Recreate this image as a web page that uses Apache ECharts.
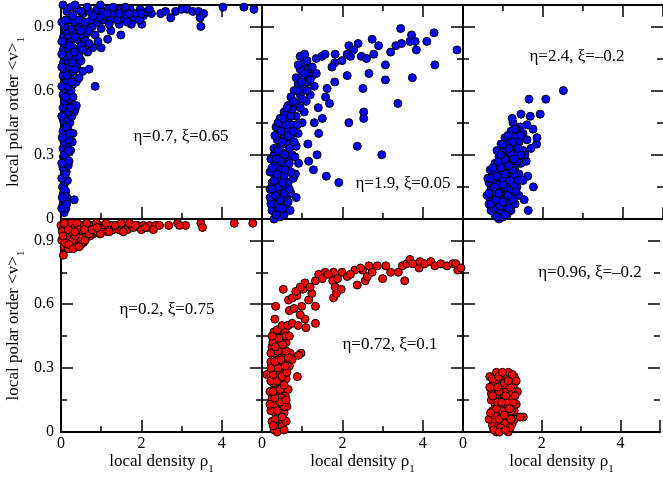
<!DOCTYPE html>
<html>
<head>
<meta charset="utf-8">
<script src="https://cdn.jsdelivr.net/npm/echarts@6/dist/echarts.min.js"></script>
<style>
html, body { margin: 0; padding: 0; background: #fff; }
#chart { width: 663px; height: 479px; }
</style>
</head>
<body>
<div id="chart"></div>
<script>
// ---- data: local density rho_1 vs local polar order <v>_1 ----
const xTickLabels = [0, 2, 4];
const yTickLabels = [0, 0.3, 0.6, 0.9];
const xTitle = 'local density ρ';
const yTitle = 'local polar order <v>';
const panelNotes = ['η=0.7, ξ=0.65', 'η=1.9, ξ=0.05', 'η=2.4, ξ=–0.2',
                    'η=0.2, ξ=0.75', 'η=0.72, ξ=0.1', 'η=0.96, ξ=–0.2'];

const blueEta07 = [
  [0.08,0.03],[0.12,0.05],[0.05,0.07],[0.1,0.08],[0.15,0.1],[0.06,0.12],[0.12,0.13],[0.04,0.15],[0.1,0.17],[0.16,0.18],
  [0.07,0.2],[0.13,0.22],[0.05,0.24],[0.18,0.25],[0.1,0.26],[0.14,0.28],[0.06,0.29],[0.33,0.09],[0.2,0.27],[0.09,0.11],
  [0.1,0.31],[0.24,0.32],[0.05,0.33],[0.15,0.34],[0.28,0.36],[0.08,0.36],[0.2,0.37],[0.12,0.39],[0.3,0.4],[0.05,0.41],
  [0.17,0.42],[0.1,0.44],[0.22,0.45],[0.06,0.46],[0.15,0.47],[0.27,0.48],[0.1,0.49],[0.2,0.5],[0.32,0.5],[0.05,0.52],
  [0.14,0.53],[0.26,0.54],[0.09,0.55],[0.2,0.56],[0.3,0.57],[0.05,0.58],[0.15,0.59],[0.25,0.6],[0.35,0.51],[0.38,0.53],
  [0.08,0.61],[0.18,0.62],[0.3,0.63],[0.38,0.64],[0.12,0.65],[0.24,0.66],[0.05,0.67],[0.17,0.68],[0.3,0.69],[0.54,0.69],
  [0.1,0.7],[0.22,0.71],[0.4,0.72],[0.06,0.73],[0.16,0.74],[0.3,0.75],[0.5,0.74],[0.1,0.76],[0.22,0.77],[0.4,0.78],
  [0.66,0.78],[0.06,0.79],[0.16,0.8],[0.3,0.8],[0.5,0.81],[0.79,0.8],[1.0,0.8],[0.1,0.82],[0.24,0.83],[0.4,0.84],
  [0.6,0.84],[1.16,0.84],[0.06,0.85],[0.18,0.86],[0.32,0.87],[0.5,0.86],[0.66,0.87],[0.85,0.86],[1.24,0.88],[1.49,0.86],
  [0.12,0.88],[0.26,0.89],[0.42,0.9],[0.6,0.89],[0.78,0.9],[1.0,0.89],[0.85,0.62],[0.7,0.7],
  [0.02,0.05],[0.14,0.07],[0.03,0.1],[0.08,0.14],[0.02,0.19],[0.11,0.21],[0.02,0.26],[0.08,0.3],[0.18,0.32],[0.03,0.38],
  [0.22,0.4],[0.13,0.43],[0.02,0.48],[0.24,0.52],[0.12,0.57],[0.02,0.62],[0.26,0.64],[0.45,0.66],[0.14,0.67],[0.35,0.7],
  [0.02,0.71],[0.28,0.73],[0.45,0.76],[0.02,0.77],[0.34,0.78],[0.55,0.79],[0.22,0.81],[0.7,0.82],[0.02,0.83],[0.35,0.85],
  [0.92,0.83],[0.48,0.88],[0.1,0.9],[0.7,0.88],[0.02,0.92],[0.2,0.93],[0.52,0.92],[0.9,0.92],[0.35,0.92],[1.05,0.93],
  [0.05,1.0],[0.15,0.97],[0.25,0.99],[0.12,0.93],[0.3,0.95],[0.4,0.98],[0.45,0.93],[0.55,0.96],[0.6,0.92],[0.7,0.97],
  [0.75,0.93],[0.85,0.96],[0.9,0.98],[0.95,0.94],[1.05,0.97],[1.1,0.95],[1.18,0.98],[1.25,0.93],[1.32,0.96],[1.4,0.98],
  [1.5,0.94],[1.55,0.97],[1.63,0.95],[1.72,0.98],[1.8,0.93],[1.88,0.96],[1.97,0.98],[2.05,0.95],[2.15,0.97],[2.25,0.96],
  [1.45,0.91],[1.75,0.91],[2.01,0.91],[1.2,0.91],[2.48,0.96],[2.6,0.97],[2.73,0.94],[2.85,0.97],[3.0,0.98],[3.14,0.98],
  [3.28,0.97],[3.42,0.97],[3.55,0.96],[3.46,0.94],[3.48,0.9],[4.03,0.99],[4.55,0.99],[4.8,0.98],[0.35,1.0],[0.65,0.99],
  [0.98,1.0],[1.4,0.93],[1.65,0.92],[1.95,0.93],[0.5,0.97],[0.8,0.95],[1.15,0.96],[1.45,0.96],[1.7,0.96],[2.2,0.98],
  [2.0,0.96],[1.3,0.99],[1.6,0.99]
];

const blueEta19 = [
  [0.3,0.0],[0.45,0.01],[0.55,0.02],[0.25,0.04],[0.4,0.05],[0.6,0.05],[0.7,0.04],[0.3,0.07],[0.5,0.08],[0.2,0.1],
  [0.38,0.1],[0.62,0.1],[0.28,0.12],[0.48,0.13],[0.2,0.14],[0.72,0.12],[0.35,0.15],[0.58,0.15],[0.85,0.1],
  [0.25,0.17],[0.45,0.18],[0.65,0.17],[0.32,0.2],[0.55,0.2],[0.78,0.19],[0.2,0.22],[0.42,0.23],[0.65,0.23],[0.3,0.25],
  [0.52,0.26],[0.83,0.21],[0.91,0.26],[0.22,0.28],[0.4,0.28],[0.62,0.28],[0.75,0.3],[0.3,0.3],[0.5,0.31],[1.16,0.27],
  [1.28,0.23],[1.6,0.2],[1.91,0.17],
  [0.3,0.33],[0.45,0.34],[0.6,0.35],[0.85,0.34],[1.14,0.35],[0.38,0.37],[0.55,0.38],[0.72,0.38],[1.37,0.3],[0.42,0.41],
  [0.62,0.41],[0.9,0.4],[1.41,0.4],[0.35,0.43],[0.5,0.44],[0.75,0.44],[1.0,0.45],[0.45,0.47],[0.65,0.47],[0.85,0.48],
  [0.55,0.5],[0.75,0.51],[1.05,0.5],
  [0.65,0.53],[0.85,0.54],[1.1,0.55],[0.72,0.57],[0.95,0.58],[1.2,0.58],[0.8,0.6],[1.05,0.61],[0.9,0.63],[1.15,0.64],
  [1.3,0.62],[0.85,0.66],[1.0,0.67],[1.25,0.67],[0.95,0.7],[1.15,0.7],[1.35,0.68],[1.05,0.73],[0.9,0.72],
  [0.35,0.02],[0.52,0.05],[0.22,0.07],[0.45,0.09],[0.65,0.08],[0.33,0.11],[0.55,0.12],[0.25,0.14],[0.42,0.15],[0.68,0.14],
  [0.3,0.18],[0.52,0.17],[0.72,0.22],[0.38,0.21],[0.58,0.23],[0.25,0.24],[0.47,0.27],[0.68,0.26],[0.35,0.28],[0.57,0.3],
  [0.82,0.29],[0.4,0.32],[0.68,0.33],[0.5,0.36],[0.8,0.36],[0.32,0.39],[0.65,0.39],[0.48,0.41],[0.78,0.41],[0.4,0.45],
  [0.6,0.44],[0.88,0.44],[0.52,0.47],[0.72,0.48],[0.62,0.52],[0.95,0.52],[0.78,0.55],[1.0,0.56],[0.88,0.6],[1.12,0.6],
  [0.98,0.64],[1.2,0.65],[1.08,0.68],[1.25,0.71],[1.12,0.74],
  [0.95,0.76],[1.06,0.77],[1.35,0.75],[1.49,0.76],[1.57,0.77],[1.82,0.77],[1.81,0.73],[1.74,0.71],[1.99,0.74],[2.12,0.77],
  [2.2,0.76],[2.16,0.81],[2.39,0.82],[2.28,0.79],[2.47,0.76],[2.6,0.75],[2.74,0.84],[2.78,0.77],[2.9,0.81],[3.07,0.72],
  [3.2,0.78],[3.33,0.81],[3.47,0.82],[3.45,0.89],[3.68,0.83],[3.72,0.86],[3.81,0.83],[3.84,0.79],[4.1,0.83],[4.28,0.87],
  [4.85,0.79],[4.3,0.72],[3.74,0.66],[3.38,0.54],[3.07,0.65],[2.98,0.3],[2.37,0.34],[2.53,0.47],[2.53,0.5],[2.16,0.45],
  [2.51,0.61],[2.66,0.68],[2.12,0.67],[1.81,0.64],[1.68,0.54],[1.58,0.57],[1.62,0.61],[1.4,0.52],[1.5,0.47],[1.3,0.45]
];

const blueEta24 = [
  [0.9,0.0],[1.0,0.01],[0.8,0.02],[1.1,0.02],[0.7,0.04],[0.95,0.04],[1.2,0.04],[0.85,0.06],[1.05,0.06],[0.65,0.07],
  [1.3,0.07],[0.75,0.09],[0.95,0.09],[1.15,0.09],[0.6,0.11],[0.85,0.11],[1.05,0.12],[1.25,0.12],[1.4,0.11],[0.7,0.14],
  [0.95,0.14],[1.15,0.15],[1.35,0.15],[0.65,0.17],[0.85,0.17],[1.05,0.18],[1.25,0.18],[0.75,0.2],[0.95,0.2],[1.15,0.21],
  [1.4,0.21],[0.68,0.23],[0.88,0.23],[1.05,0.24],[1.3,0.24],[0.8,0.26],[1.0,0.26],[1.2,0.27],[1.45,0.26],[0.9,0.29],
  [1.1,0.29],[1.35,0.3],[0.85,0.32],[1.05,0.32],[1.25,0.33],[1.5,0.32],[0.95,0.35],[1.15,0.36],[1.4,0.36],[1.05,0.38],
  [1.3,0.39],[1.6,0.37],[1.2,0.41],[1.5,0.4],[1.75,0.42],[1.43,0.43],[1.25,0.45],[1.45,0.49],[1.23,0.47],[1.68,0.48],
  [1.93,0.49],[1.65,0.56],[2.07,0.56],[2.51,0.6],[1.84,0.35],[1.85,0.38],[1.76,0.15],[1.63,0.04],[1.53,0.09],[1.62,0.2],
  [1.7,0.33],[1.58,0.27],[0.78,0.05],[1.12,0.07],[0.72,0.12],[0.9,0.16],[1.2,0.14],[0.8,0.22],[1.1,0.25],[0.98,0.31],
  [1.18,0.31],[1.35,0.27],[0.92,0.06],[1.02,0.15],[1.28,0.21],[0.62,0.19],[1.5,0.18],[1.55,0.3],[1.33,0.42],[1.6,0.44],
  [0.85,0.01],[1.05,0.02],[1.15,0.05],[0.7,0.07],[1.0,0.08],[0.82,0.09],[1.25,0.09],[0.65,0.12],[0.9,0.12],[1.12,0.11],
  [1.32,0.13],[0.78,0.15],[1.0,0.16],[1.28,0.16],[0.7,0.19],[0.98,0.19],[1.18,0.18],[1.38,0.18],[0.85,0.2],[1.05,0.21],
  [1.25,0.23],[0.75,0.24],[0.95,0.24],[1.15,0.25],[0.88,0.27],[1.05,0.28],[1.28,0.28],[1.45,0.3],[0.95,0.3],[1.15,0.33],
  [1.38,0.33],[1.0,0.35],[1.25,0.36],[1.12,0.39],[1.45,0.39],[1.3,0.42]
];

const redEta02 = [
  [0.0,0.97],[0.05,0.95],[0.02,0.9],[0.06,0.83],[0.1,0.93],[0.12,0.97],[0.15,0.89],[0.2,0.95],[0.22,0.91],[0.25,0.98],
  [0.3,0.93],[0.32,0.88],[0.35,0.96],[0.4,0.91],[0.43,0.89],[0.45,0.97],[0.5,0.94],[0.55,0.9],[0.56,0.89],[0.6,0.96],
  [0.62,0.92],[0.7,0.95],[0.75,0.97],[0.8,0.93],[0.85,0.96],[0.9,0.94],[0.95,0.97],[1.0,0.95],[1.05,0.96],[1.1,0.97],
  [1.15,0.94],[1.2,0.96],[1.25,0.97],[1.3,0.95],[1.4,0.97],[1.45,0.95],[1.5,0.96],[1.6,0.97],[1.65,0.95],[1.75,0.97],
  [1.8,0.96],[1.9,0.97],[1.95,0.96],[2.05,0.97],[2.15,0.96],[2.2,0.97],[2.35,0.97],[2.68,0.97],[2.9,0.98],[3.1,0.97],
  [3.48,0.98],[3.52,0.96],[4.31,0.98],[4.77,0.98],[0.08,0.87],[0.18,0.86],[0.28,0.9],[0.38,0.87],[0.48,0.91],[0.03,0.94],
  [0.14,0.92],[0.26,0.94],[0.36,0.92],[0.52,0.97],[0.66,0.94],[0.72,0.92],[0.82,0.97],[0.98,0.93],[1.35,0.97],[1.55,0.94],
  [0.08,0.98],[0.4,0.98],[0.64,0.98],[0.88,0.98],[1.12,0.98],[1.7,0.98],[2.0,0.95],[2.3,0.95],[2.95,0.97],[0.45,0.95],
  [0.1,0.89],[0.2,0.88],[0.3,0.86],[0.5,0.88],[0.45,0.87],[0.6,0.9],[0.7,0.93],[0.05,0.92],[0.18,0.95],[0.35,0.94],
  [0.58,0.95],[0.78,0.95],[0.9,0.96],[1.2,0.94],[1.5,0.98],[1.85,0.97],[2.1,0.96],[2.45,0.97]
];

const redEta072 = [
  [0.3,0.01],[0.4,0.02],[0.5,0.03],[0.25,0.05],[0.45,0.06],[0.6,0.05],[0.35,0.08],[0.55,0.09],[0.22,0.1],[0.42,0.11],
  [0.62,0.12],[0.3,0.13],[0.5,0.14],[0.25,0.16],[0.4,0.17],[0.58,0.17],[0.2,0.19],[0.35,0.2],[0.5,0.21],[0.65,0.2],
  [0.28,0.23],[0.45,0.24],[0.6,0.25],[0.12,0.27],[0.22,0.27],[0.38,0.28],[0.55,0.28],[0.3,0.3],[0.48,0.31],[0.68,0.31],
  [0.22,0.33],[0.4,0.34],[0.58,0.35],[0.3,0.37],[0.5,0.38],[0.7,0.37],[0.25,0.4],[0.42,0.41],[0.6,0.42],[0.35,0.44],
  [0.52,0.45],[0.88,0.26],[0.97,0.37],[0.91,0.36],[0.75,0.34],[0.3,0.47],[0.45,0.48],[0.65,0.5],[0.58,0.47],[0.27,0.42],
  [0.33,0.06],[0.48,0.16],[0.36,0.25],[0.55,0.33],[0.45,0.39],
  [0.38,0.0],[0.55,0.01],[0.28,0.03],[0.5,0.07],[0.38,0.1],[0.55,0.12],[0.2,0.13],[0.45,0.14],[0.32,0.16],[0.6,0.15],
  [0.28,0.19],[0.45,0.2],[0.55,0.22],[0.22,0.24],[0.38,0.24],[0.5,0.26],[0.28,0.27],[0.62,0.28],[0.4,0.3],[0.22,0.3],
  [0.58,0.31],[0.32,0.33],[0.48,0.34],[0.65,0.35],[0.22,0.37],[0.4,0.38],[0.6,0.38],[0.33,0.4],[0.52,0.41],[0.42,0.44],
  [0.6,0.45],[0.25,0.45],[0.38,0.48],[0.5,0.5],[0.68,0.45],
  [0.32,0.53],[0.34,0.59],[0.53,0.67],[0.66,0.62],[0.76,0.63],[0.68,0.57],[0.8,0.58],[0.87,0.64],[0.99,0.59],[1.07,0.53],
  [0.95,0.55],[1.16,0.62],[1.24,0.65],[1.33,0.59],[1.33,0.51],[1.09,0.49],[0.64,0.5],[0.75,0.51],[0.9,0.5],[1.02,0.67],
  [1.07,0.7],[0.95,0.68],[1.2,0.68],[1.33,0.71],[1.41,0.74],[1.57,0.75],[1.5,0.72],[0.84,0.66],
  [1.78,0.75],[1.76,0.71],[1.82,0.68],[1.97,0.67],[1.78,0.63],[1.85,0.65],[1.99,0.75],[2.12,0.73],[2.31,0.76],[2.37,0.69],
  [2.57,0.71],[2.5,0.76],[2.62,0.73],[2.66,0.78],[2.74,0.75],[2.87,0.78],[3.0,0.72],[3.08,0.78],[3.2,0.75],[3.39,0.75],
  [3.49,0.78],[3.55,0.71],[3.6,0.79],[3.68,0.81],[3.75,0.79],[3.91,0.77],[3.93,0.8],[4.05,0.79],[4.2,0.8],[4.3,0.78],
  [4.45,0.79],[4.6,0.78],[4.75,0.79],[4.82,0.79],[4.87,0.76],[4.95,0.77],[2.2,0.74],[2.45,0.77],[1.65,0.74],[1.88,0.72]
];

const redEta096 = [
  [0.85,0.0],[1.0,0.01],[1.15,0.0],[0.75,0.03],[0.92,0.03],[1.08,0.03],[1.25,0.04],[0.66,0.06],[0.82,0.06],[1.0,0.06],
  [1.18,0.07],[1.53,0.07],[0.9,0.09],[1.1,0.09],[1.3,0.1],[0.75,0.1],[0.95,0.12],[1.15,0.12],[0.82,0.13],[1.35,0.13],
  [1.05,0.15],[0.72,0.15],[0.9,0.16],[1.22,0.16],[1.0,0.18],[0.8,0.19],[1.15,0.19],[1.38,0.19],[0.95,0.21],[0.75,0.22],
  [1.1,0.22],[1.28,0.22],[0.88,0.24],[1.02,0.25],[1.2,0.25],[0.68,0.26],[0.82,0.26],[1.09,0.27],[0.95,0.27],[1.15,0.28],
  [0.85,0.28],[0.78,0.08],[0.98,0.1],[1.22,0.1],[0.88,0.18],[1.08,0.2],[1.25,0.19],[0.8,0.23],[1.0,0.22],[1.05,0.04],
  [0.92,0.06],[1.12,0.14],[0.85,0.11],[1.3,0.06],[0.72,0.18],[0.95,0.02],[1.2,0.02],[1.3,0.26],[1.45,0.07],
  [0.78,0.01],[0.92,0.0],[1.08,0.01],[1.22,0.06],[0.7,0.09],[1.05,0.08],[1.18,0.11],[0.88,0.14],[1.28,0.14],[0.98,0.14],
  [0.75,0.17],[1.08,0.17],[1.32,0.17],[0.92,0.19],[1.2,0.21],[0.68,0.21],[0.88,0.21],[1.05,0.23],[1.35,0.24],[0.75,0.25],
  [1.15,0.24],[0.9,0.26],[1.25,0.27],[1.0,0.28]
];

const panelData = [blueEta07, blueEta19, blueEta24, redEta02, redEta072, redEta096];
const panelColors = ['#0000ff', '#0000ff', '#0000ff', '#ff0000', '#ff0000', '#ff0000'];

// ---- layout ----
const FONT = 'Liberation Serif';
const colLeft = [61, 262, 463];
const colWidth = [201, 201, 202];
const rowTop = [5, 219];
const rowHeight = [214, 213];
// note centres relative to each panel's top-left corner
const notePos = [[120, 132], [141, 179], [114, 52], [106, 91], [128, 126], [127, 54]];

const frame = { color: '#000', width: 2 };
const tickStyle = { color: '#000', width: 1.5 };
const labelStyle = { color: '#000', fontFamily: FONT, fontSize: 16 };
const titleRich = {
  t: { fontFamily: FONT, fontSize: 17, color: '#000', lineHeight: 26, verticalAlign: 'middle' },
  s: { fontFamily: FONT, fontSize: 11, color: '#000', lineHeight: 26, verticalAlign: 'bottom' }
};

function near(list, v) {
  return list.some(t => Math.abs(t - v) < 1e-6);
}

const grids = [], xAxes = [], yAxes = [], series = [], graphics = [];

for (let p = 0; p < 6; p++) {
  const row = Math.floor(p / 3), col = p % 3;
  grids.push({ left: colLeft[col], top: rowTop[row], width: colWidth[col], height: rowHeight[row], containLabel: false });

  const baseX = { gridIndex: p, type: 'value', min: 0, max: 5, splitLine: { show: false } };
  const baseY = { gridIndex: p, type: 'value', min: 0, max: 1, splitLine: { show: false } };

  // bottom edge: minor ticks + labels
  xAxes.push(Object.assign({}, baseX, {
    position: 'bottom', interval: 1,
    axisLine: { show: true, onZero: false, lineStyle: frame },
    axisTick: { show: true, inside: true, length: 6, lineStyle: tickStyle },
    axisLabel: Object.assign({ show: row === 1, margin: 4,
      formatter: v => near(xTickLabels, v) ? String(v) : '' }, labelStyle),
    name: row === 1 ? '{t|' + xTitle + '}{s|1}' : '',
    nameLocation: 'middle', nameGap: 17,
    nameTextStyle: { rich: titleRich }
  }));
  // bottom edge: major ticks
  xAxes.push(Object.assign({}, baseX, {
    position: 'bottom', interval: 2,
    axisLine: { show: false, onZero: false },
    axisTick: { show: true, inside: true, length: 12, lineStyle: tickStyle },
    axisLabel: { show: false }
  }));
  // top edge
  xAxes.push(Object.assign({}, baseX, {
    position: 'top', interval: 1,
    axisLine: { show: true, onZero: false, lineStyle: frame },
    axisTick: { show: row === 0, inside: true, length: 6, lineStyle: tickStyle },
    axisLabel: { show: false }
  }));
  xAxes.push(Object.assign({}, baseX, {
    position: 'top', interval: 2,
    axisLine: { show: false, onZero: false },
    axisTick: { show: row === 0, inside: true, length: 12, lineStyle: tickStyle },
    axisLabel: { show: false }
  }));

  // left edge: minor ticks + labels
  yAxes.push(Object.assign({}, baseY, {
    position: 'left', interval: 0.15,
    axisLine: { show: true, onZero: false, lineStyle: frame },
    axisTick: { show: true, inside: true, length: 6, lineStyle: tickStyle },
    axisLabel: Object.assign({ show: col === 0, margin: 7,
      formatter: v => near(yTickLabels, v) ? String(v) : '' }, labelStyle),
    name: col === 0 ? '{t|' + yTitle + '}{s|1}' : '',
    nameLocation: 'middle', nameGap: 34,
    nameTextStyle: { rich: titleRich }
  }));
  yAxes.push(Object.assign({}, baseY, {
    position: 'left', interval: 0.3,
    axisLine: { show: false, onZero: false },
    axisTick: { show: true, inside: true, length: 12, lineStyle: tickStyle },
    axisLabel: { show: false }
  }));
  // right edge (the outermost column's frame falls off the page edge)
  yAxes.push(Object.assign({}, baseY, {
    position: 'right', interval: 0.15,
    axisLine: { show: col !== 2, onZero: false, lineStyle: frame },
    axisTick: { show: true, inside: true, length: 6, lineStyle: tickStyle },
    axisLabel: { show: false }
  }));
  yAxes.push(Object.assign({}, baseY, {
    position: 'right', interval: 0.3,
    axisLine: { show: false, onZero: false },
    axisTick: { show: true, inside: true, length: 12, lineStyle: tickStyle },
    axisLabel: { show: false }
  }));

  series.push({
    type: 'scatter',
    xAxisIndex: p * 4, yAxisIndex: p * 4,
    data: panelData[p],
    symbol: 'circle', symbolSize: 8,
    itemStyle: { color: panelColors[p], borderColor: '#000', borderWidth: 1, opacity: 1 },
    clip: false, silent: true, z: 3
  });

  graphics.push({
    type: 'text',
    x: colLeft[col] + notePos[p][0], y: rowTop[row] + notePos[p][1],
    z: 10,
    style: { text: panelNotes[p], fontFamily: FONT, fontSize: 17, fill: '#000',
             align: 'center', verticalAlign: 'middle' }
  });
}

const chart = echarts.init(document.getElementById('chart'), null, { renderer: 'canvas' });
chart.setOption({
  backgroundColor: '#fff',
  animation: false,
  grid: grids,
  xAxis: xAxes,
  yAxis: yAxes,
  series: series,
  graphic: graphics
});
</script>
</body>
</html>
